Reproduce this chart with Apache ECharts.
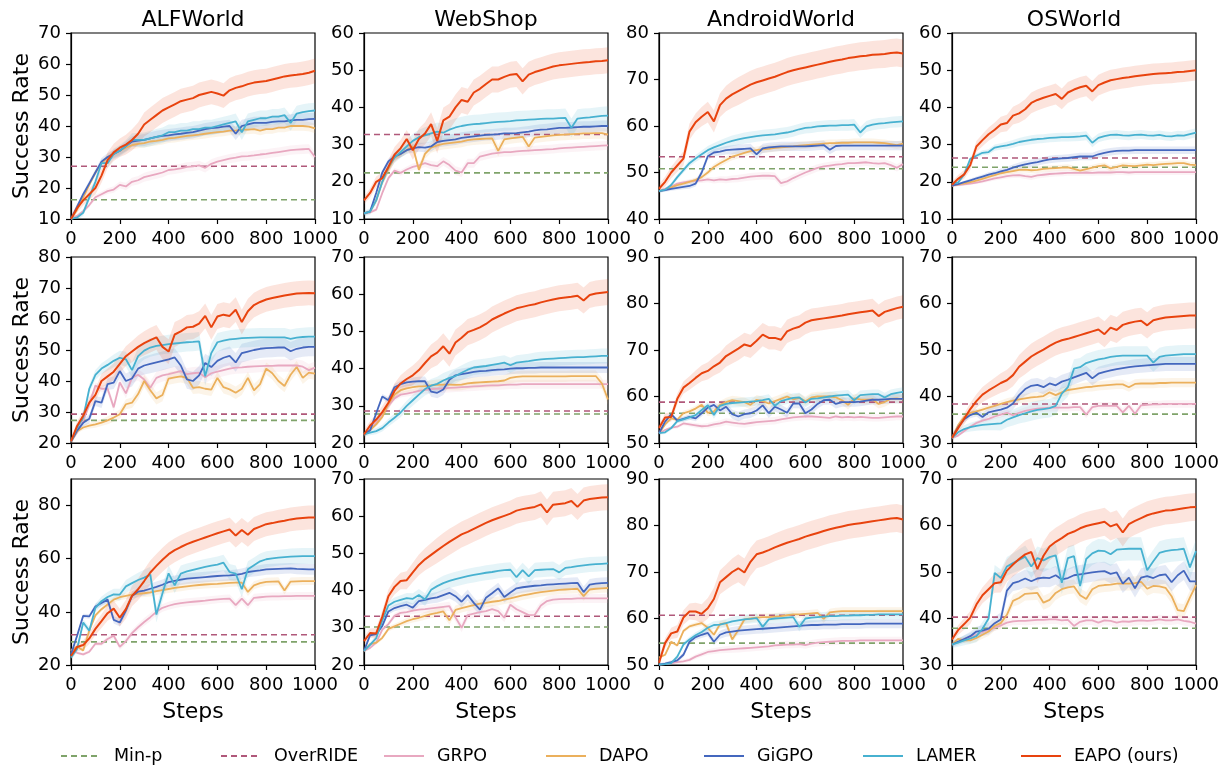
<!DOCTYPE html>
<html><head><meta charset="utf-8">
<script src="https://cdn.jsdelivr.net/npm/echarts@6/dist/echarts.min.js"></script>
<style>html,body{margin:0;padding:0;background:#fff}#c{width:1228px;height:770px}</style>
</head><body><div id="c"></div>
<script>
const STEPS = [0,25,50,75,100,125,150,175,200,225,250,275,300,325,350,375,400,425,450,475,500,525,550,575,600,625,650,675,700,725,750,775,800,825,850,875,900,925,950,975,1000];
const BENCHMARKS = ['ALFWorld','WebShop','AndroidWorld','OSWorld'];
const METHODS = ['GRPO','DAPO','GiGPO','LAMER','EAPO (ours)'];
const MINP = [[16.2,22.4,50.8,23.9],[27.3,27.8,56.4,36.2],[28.7,30.2,54.7,37.9]];
const OVERRIDE = [[27.0,32.7,53.4,26.4],[29.3,28.6,58.8,38.4],[31.4,33.1,60.7,40.3]];
const Y_MIN = [[10,10,40,10],[20,20,50,30],[20,20,50,30]];
const Y_MAX = [[70,60,80,60],[80,70,90,70],[90,70,90,70]];
const Y_STEP = [[10,10,10,10],[10,10,10,10],[20,10,10,10]];

// ---------- Row 1 ----------
const R1C1_GRPO = [10,11,12.5,14.5,17,18,19,19.5,21,20.5,22,22.5,23.5,24,24.5,25,25.8,26,26.3,26.8,27,27.3,26.5,27.8,28.5,29,29.5,29.8,30.2,30.3,30.5,30.8,31,31.3,31.6,31.9,32.2,32.4,32.5,32.6,30];
const R1C1_DAPO = [10,13,17,21,25,28,30,31,32,33,33.8,34.2,34.5,35,35.2,35.5,36,36.2,36.5,36.8,37,37.2,37.5,37.8,38,38.2,38.5,38.5,38.8,38.8,39,38.5,39,39,39.5,39.5,40,40,40,39.8,39.2];
const R1C1_GIGPO = [10,14,18,21.5,25,28.5,30,31,32,33.5,35,35.3,35.5,36,36.5,36.8,37,37.3,37.5,37.8,38,38.5,39,39.3,39.5,39.8,40,37.5,40,40.5,41,41,41,41.3,41.5,41.5,41.8,42,42,42.2,42.3];
const R1C1_LAMER = [10,10.5,12,17,22,28,28,31,32,33.5,35.5,35.5,35.5,36,36.5,37,38,38,38.5,38.5,39,39,39.5,39.5,40,40.5,41,41.5,38,41.5,42,42.5,42.5,43,43,43.5,41,44,44.5,44.8,45];
const R1C1_EAPO = [10,13.5,16,18,20,24,29,31.5,33,34,35.5,37.5,40.5,42,43.5,45,46,47,48,48.5,49,50,50.5,51,50.5,49.8,51.5,52.3,52.8,53.5,54,54.3,54.5,55,55.5,56,56.3,56.5,56.8,57.2,57.8];

const R1C2_GRPO = [11.5,11.8,12.5,17,21,23,22.4,23.3,24,24.4,25,24.5,24.2,25.5,24.5,23,22.5,25,25,26.8,27.2,27.6,27.8,28,28,28.2,28.3,28.4,28.5,28.6,28.7,28.8,29,29.1,29.2,29.3,29.4,29.5,29.6,29.7,29.8];
const R1C2_DAPO = [11.5,12,15,20,23.5,26.5,27.5,28.5,29.5,23.2,27.5,29.2,29.8,30.2,30.4,30.6,30.8,31.2,31.4,31.5,31.6,31.7,28.3,31.4,31.7,31.9,32.1,29.5,31.9,32.1,32.3,32.5,32.6,32.7,32.8,32.9,33,33,33.1,33.1,32.7];
const R1C2_GIGPO = [11.5,12,17,22.5,25.5,26.8,27.5,28.5,29,29.3,29.2,29.5,30.7,31,31.2,31.4,31.8,32,32.2,32.4,32.6,32.7,32.8,33,33,33.1,33.3,33.5,33.8,34,34.1,34.3,34.5,34.5,34.6,34.7,34.8,34.8,34.9,35,35];
const R1C2_LAMER = [11.5,12,15,20,24,26.5,28,29.5,31,32,32.5,33,33.5,33.2,34,34.6,35,35.3,35.5,35.6,35.8,36,36.1,36.2,36.3,36.5,36.6,36.7,36.8,36.9,37,37,37.1,37.2,34.5,37,37.2,37.3,37.5,37.7,37.8];
const R1C2_EAPO = [15,17,20,21,24,27.3,29,31.5,28.5,31.5,33,35.5,31,36.5,37.5,40,42,41.5,44,45,46.3,47.5,47.5,48.2,48.8,49,47,48.8,49.5,50,50.5,51,51.3,51.5,51.7,51.9,52.1,52.2,52.4,52.5,52.7];

const R1C3_GRPO = [46,46.5,47,47.6,47.9,48.1,48.2,48.3,48.5,48.3,48.5,48.4,48.6,48.7,48.9,49.1,49.2,49.3,49.3,49.2,47.7,48.1,48.8,49.4,50,50.5,51,51.3,51.5,51.7,51.8,52,52,52.1,52.2,52,51.9,52,51.6,51,51.8];
const R1C3_DAPO = [46,46.3,46.8,47.3,47.6,48,48.4,49,50,51.2,52,52.7,53.4,53.8,54.2,54.6,54.8,55,55.1,55.3,55.4,55.5,55.6,55.8,55.9,56,56.1,56.2,56.3,56.3,56.4,56.4,56.5,56.5,56.5,56.5,56.4,56.3,56.1,55.9,56.2];
const R1C3_GIGPO = [46,46.2,46.5,46.7,46.9,47.1,47.6,50,53.5,54.3,54.5,54.8,54.9,55,55.1,55.2,53.9,55.2,55.4,55.5,55.6,55.6,55.6,55.6,55.6,55.7,55.8,55.9,54.9,55.7,55.8,55.8,55.8,55.8,55.8,55.8,55.8,55.8,55.8,55.8,55.8];
const R1C3_LAMER = [46,46.3,47.3,49,50.5,52,53,53.9,54.8,55.4,55.9,56.4,56.8,57.1,57.4,57.6,57.8,58,58.1,58.2,58.4,58.6,58.9,59.3,59.6,59.7,59.9,60,60.1,60.1,60.2,60.2,60.3,58.6,59.9,60.3,60.5,60.6,60.8,60.9,61];
const R1C3_EAPO = [46.5,48,50,51.5,53,58.8,60.8,62,63,61,64.5,65.9,66.8,67.5,68.2,68.9,69.4,69.8,70.2,70.6,71.1,71.6,72,72.3,72.6,72.9,73.2,73.5,73.8,74.1,74.3,74.6,74.8,75,75.1,75.3,75.4,75.5,75.7,75.8,75.6];

const R1C4_GRPO = [19,19.1,19.3,19.5,19.8,20.1,20.5,20.9,21.2,21.5,21.7,21.8,21.5,21.3,21.7,21.9,22.1,22.2,22.3,22.4,22.4,22.4,22.5,22.4,22.5,22.5,22.5,22.6,22.6,22.5,22.6,22.6,22.6,22.6,22.6,22.6,22.6,22.6,22.6,22.6,22.6];
const R1C4_DAPO = [19,19.3,19.6,19.9,20.3,20.8,21.3,21.8,22.3,22.6,22.9,23.2,23.3,23.1,23.2,23.5,23.6,23.7,23.8,23.9,23.5,23,23.4,23.8,24.2,24.4,23.6,24,24.4,24.3,24.2,24.4,24.6,24.5,24.7,24.8,24.9,25,25,24.6,24.5];
const R1C4_GIGPO = [19,19.4,19.9,20.4,20.9,21.4,21.9,22.3,22.8,23.2,23.8,24.3,24.7,25,25.3,25.7,26,26.2,26.3,26.4,26.6,26.8,26.8,26.8,27.4,27.8,28.1,28.3,28.4,28.4,28.5,28.5,28.5,28.5,28.5,28.5,28.5,28.5,28.5,28.5,28.5];
const R1C4_LAMER = [19.5,19.8,22,26.2,27,27.8,28,29.2,29.5,29.8,30.2,30.7,31,31.3,31.5,31.6,31.8,31.9,32,32,32.1,32.2,32.4,30.5,31.8,32.3,32.6,32.7,32.5,32.4,32.6,32.7,32.5,32.4,32.6,32.3,32.2,32.5,32.4,32.8,33.2];
const R1C4_EAPO = [19.2,20.8,22,24.5,29.5,31.2,32.8,34,35.4,35.8,37.8,38.4,39.5,41.2,42,42.6,43.1,43.6,42.3,44,44.8,45.4,45.8,44.3,46,46.7,47.3,47.6,47.9,48.1,48.4,48.6,48.8,49,49.1,49.2,49.3,49.5,49.6,49.8,50];

// ---------- Row 2 ----------
const R2C1_GRPO = [20.5,23.5,27,32.5,38.5,37.5,37.5,31.5,39.5,36,41,42,40.5,37.8,41,41.8,42.2,42.7,43.2,42.2,42.5,42.7,41.2,42.5,43,43.5,44,44.3,44.4,44.6,44.7,44.8,44.9,44.9,45,45,45,45,44.6,43.5,44.3];
const R2C1_DAPO = [20.5,23.8,25,25.6,26,26.6,27.3,28.2,29.3,32.5,33,35.8,40,37,34.4,35.5,40.8,41.2,41.5,41,37.8,38,37.5,37.2,41,38,37.3,36.2,37.5,41,37,39,44,42.5,40,38.4,42,44.5,41,42.7,42.4];
const R2C1_GIGPO = [20.5,24,26.5,27.8,33.5,33,39,39.5,43.2,40,40.8,44,45,45.5,46,46.5,47,47.6,45,40.5,40,41.8,45.8,44.5,46.5,47.5,48.1,46,49,49.5,50,50.4,50.6,50.7,50.8,50.8,49.6,50.4,50.8,51,51];
const R2C1_LAMER = [20.5,25,28.1,37.5,42,44,45.2,46.5,47.5,47,43.5,48,49.8,50.8,51.3,51.6,51.9,52.1,52.3,52.5,52.6,52.8,41.5,49,52.5,53,53.4,53.6,53.8,53.9,54,54.1,54.1,54.1,54.1,54.1,53.6,54,54.2,54.3,54.3];
const R2C1_EAPO = [20.5,25.5,28.8,33,35.5,40,41.5,43,45.5,48,49.5,51,52.2,53.2,54.1,51,49.5,55,56,57.3,57.5,58.5,61,57.3,60.8,61.4,61,63,59,62.5,64.5,65.5,66.3,66.8,67.2,67.6,67.9,68.2,68.3,68.4,68.3];

const R2C2_GRPO = [22.3,23.5,25.5,27.8,30,32,33,33.3,33.6,34,34.3,34.5,34.6,34.7,34.8,34.9,35,35.1,35.2,35.3,35.4,35.5,35.5,35.6,35.7,35.7,35.8,35.8,35.8,35.8,35.8,35.8,35.8,35.8,35.8,35.8,35.8,35.8,35.8,35.8,35.8];
const R2C2_DAPO = [22.3,23.5,25,27,30.5,33,34.2,34.7,35,35.2,35.3,35.5,35.6,35.7,35.7,35.6,35.7,36,36.2,36.3,36.4,36.5,36.6,36.8,37.5,37.8,37.9,37.9,37.9,37.9,37.9,37.9,37.9,37.9,38,38,38,38,38,36,31.7];
const R2C2_GIGPO = [22.3,23.4,28,32.5,31.5,35,35.8,36.3,36.5,36.6,36.6,33.8,33.5,34.4,37,38.2,38.5,38.8,39.1,39.3,39.4,39.6,39.7,39.8,40,40.1,40.1,40.2,40.2,40.3,40.3,40.3,40.3,40.3,40.3,40.3,40.3,40.3,40.3,40.3,40.3];
const R2C2_LAMER = [22.3,22.8,23.2,24,25.5,26.8,28.2,30,31.5,33,34.5,35.4,35.9,36.8,37.5,38,38.9,39.7,40.3,40.5,40.7,41,41.3,41.6,40.9,41.6,41.8,42,42.3,42.5,42.6,42.7,42.8,42.9,43,43.1,43.1,43.2,43.3,43.4,43.4];
const R2C2_EAPO = [22.3,24.7,26.3,28.3,30.8,34,36,37.2,38.2,39.6,41.5,43.3,44.3,46,44,47,48.3,49.8,50.4,51.1,52,53.2,54,54.8,55.5,56.2,56.6,57,57.3,57.8,58.2,58.6,58.9,59.1,59.3,59.6,58.3,59.8,60.2,60.4,60.6];

const R2C3_GRPO = [52.1,52.8,53.3,53.5,54.2,54,53.8,53.6,53.7,54,54.2,54.6,54.4,54.2,54.1,54.3,54.5,54.6,54.7,54.8,55.1,55.3,55.5,55.6,55.7,55.7,55.6,55.5,55.4,55.7,55.5,55.6,55.5,55.6,55.5,55.4,55.4,55.5,55.6,55.7,55.7];
const R2C3_DAPO = [52.1,54,55.3,55,56.4,56.8,57.4,58.2,56.5,56.8,58.2,58.8,59.2,59,58.8,58.2,59.3,59,58.5,59,59.5,60,59.4,59.7,59,59.8,60,60,60,59.8,59.2,58.2,59.6,59.4,59.3,59.4,58.4,58.8,59.5,59.6,59.4];
const R2C3_GIGPO = [52.1,54.6,56.2,54.8,55.2,55.6,55.3,56.4,57.6,58.2,57,57.8,56.2,55.7,56.2,56.4,57,58.1,56.4,57.8,57.2,56.5,58.5,58.5,56.4,57.2,58.4,59.2,59.3,58.4,58.8,58.8,58.8,58.9,59.1,59.3,59.3,59.4,59.5,59.5,59.5];
const R2C3_LAMER = [52.1,52.3,53.2,54.7,55.1,55.5,56,57.1,58.1,56,58,58.4,58.6,58.7,58.8,58.9,59,59.2,59.5,58,59,59.4,59.7,59.8,58.7,59.5,59.6,59.8,60,60.2,60.3,60.4,59.2,60.3,60.4,60.5,60.5,59.8,60.5,60.8,61];
const R2C3_EAPO = [53.2,55.5,55.6,59.5,61.9,62.9,64,65,65.5,66.5,67.3,68.7,69.5,70.3,71.2,70.8,72,73.3,72.6,72.6,72.2,74,74.6,75,75.9,76.4,76.6,76.8,77,77.2,77.4,77.7,77.9,78.1,78.3,78.5,77.3,78.2,78.6,79,79.3];

const R2C4_GRPO = [31.1,31.6,32.6,33.5,34.3,34.8,35.2,35.7,36.1,36.5,36,36.5,36.9,37.2,37.4,37.5,37.6,37.6,37.6,37.6,37.7,37.7,36.1,37.7,38,38,38,38,36.6,38,36.3,38.1,38.2,38.3,38.3,38.4,38.4,38.4,38.4,38.4,38.4];
const R2C4_DAPO = [31.1,33.8,35.6,36.5,36.8,37.2,37.6,38,38.4,38.8,39.1,39.4,39.6,39.8,39.9,40.1,40.9,40.3,40.9,41.4,41.6,41.8,42,42.1,42.3,42.4,42.5,42.6,42.6,42,42.7,42.8,42.8,42.8,42.9,42.9,43,43,43,43,43];
const R2C4_GIGPO = [31.1,33.4,35.1,36,36.5,35.6,36.6,36.9,37.2,37.6,38.5,40.3,41.6,42.3,42.5,42,42.8,42.4,43.2,43.6,44.1,44.6,45.1,43.9,44.9,45.3,45.6,45.9,46.1,46.3,46.5,46.6,46.7,46.8,46.9,47,47,47,47,47,47];
const R2C4_LAMER = [31.1,32.3,33,33.4,33.7,33.9,34,34.1,34.2,35,35.5,36,36.4,36.8,37.1,37.3,37.5,38,40.6,42,46,46.3,47.2,47.6,48,48.2,48.5,48.7,48.8,48.8,48.8,48.8,48.8,47.3,48.5,48.8,48.9,49,49.1,49.1,49.1];
const R2C4_EAPO = [31.1,33.2,35.2,37.3,39,40.4,41.3,42.1,42.9,43.5,44.6,46.4,47.5,48.6,49.4,50.1,50.9,51.6,52.1,52.4,52.8,53.2,53.6,54,54.4,53.4,54.8,54.3,55.4,55.8,56.1,56.3,55.3,56.4,56.7,57,57.1,57.2,57.3,57.4,57.4];

// ---------- Row 3 ----------
const R3C1_GRPO = [25.9,24.6,24,25,28,28,29.8,31,26.8,29,32,34.2,36.2,38,40,41.5,42.3,42.9,43.3,43.6,43.8,44,44.2,44.5,44.7,44.9,45,42.5,45,42.5,45.3,45.5,45.7,45.8,45.8,45.9,45.9,46,46,46,46];
const R3C1_DAPO = [25.3,27,25.5,33,38.7,41,42.8,44.6,45.5,46,46.5,46.8,47,47.3,47.8,48.2,48.6,49,49.3,49.6,49.9,50.1,50.3,50.4,50.5,50.7,50.9,51,51,47.5,50,50.8,51.3,51.4,51.5,48,51.4,51.5,51.6,51.6,51.6];
const R3C1_GIGPO = [24,31,38.5,38.3,42,43.3,44.6,37,36,40.5,46,47.6,48,48.7,49.4,50.2,51.2,51.7,52.1,52.5,52.7,52.9,53.1,53.3,53.5,53.6,53.7,53.9,54.3,55,55.3,55.6,56,56.1,56.2,56.3,56.4,56.2,56.1,56,56];
const R3C1_LAMER = [22.8,26,36,32.9,41.5,44,45.6,46.6,46.5,49.6,50.8,52,52.9,54,39,47,54.5,50,54.4,55.2,55.8,56.4,56.9,57.4,57.8,58.5,55,54.4,48.5,56,57.5,59,59.8,60.1,60.4,60.6,60.8,60.9,61,61,61];
const R3C1_EAPO = [23.4,26.8,27.5,30,33.6,36.5,39.5,41.2,37.8,41,46,48.5,51.6,54.8,57.3,59.6,61.7,63.2,64.4,65.5,66.4,67.2,68,68.8,69.6,70.3,71,68.7,70.8,69,71.2,72.1,73,73.4,73.9,74.3,74.8,75.1,75.3,75.5,75.5];

const R3C2_GRPO = [23.8,24.6,26,29.5,31,33.2,34,34.2,34.6,34.9,35,35.2,35.4,35.6,35.8,32.8,30,33.4,33.8,34.2,34.5,35,34.5,32.7,36.2,35,34.2,33.4,33.5,36,37.2,37.6,37.7,37.8,37.8,37.9,37.9,37.9,37.9,37.9,37.9];
const R3C2_DAPO = [23.8,25.6,26,27.3,29.7,30.4,31.1,31.8,32.3,32.7,33.2,33.7,34,34.4,32,34.8,35.3,35.7,36.1,36.5,36.7,37,37.2,37.6,37.9,38.3,38.7,39,39.3,39.6,39.8,40,40.2,40.3,40.4,40.5,38.5,40.3,40.5,40.6,40.7];
const R3C2_GIGPO = [23.8,28,28.3,30.5,34.4,35.3,35.8,36.2,35.4,37.2,37.5,37.9,38.2,38.8,39.4,38.5,37,38.8,36.7,34.9,38.1,39.3,40.6,38.3,39.5,40.6,40.9,41.1,41.3,41.4,41.6,41.7,41.8,41.9,42,42.1,39.6,41.6,41.9,42,42.1];
const R3C2_LAMER = [23.8,25.4,27.2,32,36,37,37.5,38,37.8,38.8,37.6,40.2,41.2,42,42.6,43.1,43.5,43.9,44.2,44.5,44.8,45,45.3,45.5,45.6,43.6,45.5,43.8,45.5,45.6,45.7,45.8,44.9,46.1,46.3,46.6,46.8,47,47.1,47.2,47.3];
const R3C2_EAPO = [26.4,28.6,28.5,33,38.5,41,42.6,42.8,44.9,46.9,48.4,49.6,50.8,52,53.1,54.1,55.1,55.8,56.6,57.4,58.2,58.9,59.5,60.1,60.7,61.5,61.9,62.2,62.5,63.2,61,63.1,63.3,63.5,64.1,62.5,64.2,64.6,64.8,65,65.1];

const R3C3_GRPO = [50.1,50.2,50.4,50.6,50.8,51.1,51.8,52.3,52.8,53,53.2,53.3,53.4,53.5,53.6,53.7,53.8,53.9,54,54.2,54.3,54.4,54.4,54.5,54.3,54.6,54.8,54.9,55,55.1,55.2,55.2,55.2,55.3,55.3,55.3,55.3,55.3,55.3,55.3,55.3];
const R3C3_DAPO = [51.6,52.2,55,54.2,57.3,58.3,58.7,59,58,56.5,58.8,59,55.5,57.5,59.8,60,60.2,60.3,60.3,60.4,60.5,60.7,60.9,60.9,61,61.1,61.2,59.9,61.3,61.5,61.6,61.6,61.6,61.6,61.6,61.6,61.6,61.6,61.6,61.6,61.6];
const R3C3_GIGPO = [50.1,50.3,50.6,51,52.2,55,56,56.5,56.9,55,56.5,57,57.2,57.4,57.5,57.6,57.7,57.8,57.9,58,58.1,58.2,58.3,58.4,58.5,58.6,58.6,58.7,58.7,58.7,58.8,58.8,58.8,58.8,58.9,58.9,58.9,58.9,58.9,58.9,58.9];
const R3C3_LAMER = [50.1,50.2,50.4,51.8,54.4,55.5,56.4,57.1,58,58.6,58.7,59,59.4,59.6,59.8,59.9,60.1,58.2,59.8,60,60.1,60.2,60.3,58.2,60,60.2,60.3,60.4,60.5,60.5,60.6,60.6,60.7,60.7,60.8,60.8,60.9,60.9,60.9,60.9,60.9];
const R3C3_EAPO = [50.5,54.7,56.8,57.2,60.2,61.5,61.5,61,62.2,64.2,67.8,68.9,70,70.8,69.9,72.2,73.8,74.2,74.7,75.3,75.8,76.3,76.7,77.1,77.6,78,78.4,78.8,79.2,79.5,79.8,80.1,80.3,80.5,80.7,80.9,81.1,81.3,81.5,81.6,81.3];

const R3C4_GRPO = [34.4,35,35.6,36.1,36.5,37.1,37.6,38,38.5,39.1,39.4,39.5,39.5,39.6,39.7,39.7,39.8,39.8,39.6,39.7,38.4,39.3,39.6,39.6,39.1,39.6,39.5,39.1,39.4,39.3,39.5,39.6,39.5,39.6,39.8,39.6,39.6,39.8,39.5,39.3,38.9];
const R3C4_DAPO = [34.4,35.6,35.3,35.3,35.8,36.5,37.2,38.4,39,40.8,43.8,44.4,45.3,45.4,45.5,43.4,44,45.5,46.3,46.7,46.9,45,44.2,46.3,47,47.2,47.3,47.5,47.5,47.5,47.6,47.9,46.4,47,46.9,46.6,44.8,41.8,41.6,44.5,47.2];
const R3C4_GIGPO = [34.4,35,35.6,36.2,37.2,37.4,37.8,39,39.8,46,47.6,48,48.6,48,48.6,48.8,48.7,49.3,48.4,48.7,49.3,49.5,49.7,49.9,50.1,50.2,49.6,49.9,47.5,48.8,46.5,48.8,49.1,48.7,49.3,49.5,47.8,49.3,50.3,48,48];
const R3C4_LAMER = [34.4,34.8,35.3,35.7,36.2,37.8,40,49.8,48.7,51.2,51.9,52.6,53.3,51.2,53,52.5,53.2,53.6,47.7,53,53.4,47,52.8,54,54.6,54.5,53.8,54.8,54.9,55,55,55,50.4,52.3,54.1,54.5,54.7,54.8,55,51,54.5];
const R3C4_EAPO = [35.5,37.5,38.8,40.2,43,45,46.3,47.6,47.8,50.3,51.6,52.8,53.8,54.3,50.6,53.5,55.5,56.5,57.3,58.2,58.7,59.4,59.9,60.2,60.5,60.8,59.8,60.3,58.5,60.3,61,61.6,62.2,62.6,62.9,63.2,63.3,63.5,63.7,63.9,64];

// half-width of the shaded spread, per method [GRPO, DAPO, GiGPO, LAMER, EAPO]
const SPREAD = [
  [[1.5,1.5,2,2.5,4],[1.2,1.5,1.5,2.5,3.5],[0.8,0.8,1,1.2,3],[0.8,0.8,1,1.2,2.8]],
  [[2,2,3,3,4],[1.2,1.5,1.5,2,3.5],[0.8,1,1,1,2.5],[0.8,1,1.5,2,2.8]],
  [[1.5,1.5,2,3,4.5],[1.2,1.2,1.5,2,3.5],[0.8,0.8,1,1,3],[1,1.5,2,2.5,3]]
];

const CURVES = [
  [[R1C1_GRPO,R1C1_DAPO,R1C1_GIGPO,R1C1_LAMER,R1C1_EAPO],[R1C2_GRPO,R1C2_DAPO,R1C2_GIGPO,R1C2_LAMER,R1C2_EAPO],[R1C3_GRPO,R1C3_DAPO,R1C3_GIGPO,R1C3_LAMER,R1C3_EAPO],[R1C4_GRPO,R1C4_DAPO,R1C4_GIGPO,R1C4_LAMER,R1C4_EAPO]],
  [[R2C1_GRPO,R2C1_DAPO,R2C1_GIGPO,R2C1_LAMER,R2C1_EAPO],[R2C2_GRPO,R2C2_DAPO,R2C2_GIGPO,R2C2_LAMER,R2C2_EAPO],[R2C3_GRPO,R2C3_DAPO,R2C3_GIGPO,R2C3_LAMER,R2C3_EAPO],[R2C4_GRPO,R2C4_DAPO,R2C4_GIGPO,R2C4_LAMER,R2C4_EAPO]],
  [[R3C1_GRPO,R3C1_DAPO,R3C1_GIGPO,R3C1_LAMER,R3C1_EAPO],[R3C2_GRPO,R3C2_DAPO,R3C2_GIGPO,R3C2_LAMER,R3C2_EAPO],[R3C3_GRPO,R3C3_DAPO,R3C3_GIGPO,R3C3_LAMER,R3C3_EAPO],[R3C4_GRPO,R3C4_DAPO,R3C4_GIGPO,R3C4_LAMER,R3C4_EAPO]]
];

// ---------- styling / layout ----------
const FONT = 'DejaVu Sans';
const C_MINP = '#7FA36A', C_OVR = '#B0587A';
const M_COLORS = ['#E8A8C0','#EBB05C','#4467BE','#47B1D0','#E8430E'];
const COL_X = [71, 364, 659, 952];
const ROW_Y = [33, 257, 479];
const PW = 244, PH = 186;

const grids = [], xAxes = [], yAxes = [], series = [], titles = [];
let g = 0;
for (let r = 0; r < 3; r++) {
  for (let c = 0; c < 4; c++) {
    grids.push({left: COL_X[c], top: ROW_Y[r], width: PW, height: PH, show: true,
      borderColor: '#000', borderWidth: 1.2, backgroundColor: 'transparent', containLabel: false});
    xAxes.push({type: 'category', gridIndex: g, data: STEPS, boundaryGap: false,
      axisLine: {show: true, lineStyle: {color: '#000', width: 1.2}},
      axisTick: {show: true, interval: 7, length: 5, lineStyle: {color: '#000', width: 1.2}},
      axisLabel: {interval: 7, color: '#000', fontSize: 18, fontFamily: FONT, margin: 11},
      splitLine: {show: false},
      name: r === 2 ? 'Steps' : '', nameLocation: 'middle', nameGap: 36,
      nameTextStyle: {fontSize: 22, fontFamily: FONT, color: '#000'}});
    yAxes.push({type: 'value', gridIndex: g, min: Y_MIN[r][c], max: Y_MAX[r][c], interval: Y_STEP[r][c],
      axisLine: {show: true, lineStyle: {color: '#000', width: 1.2}},
      axisTick: {show: true, length: 5, lineStyle: {color: '#000', width: 1.2}},
      axisLabel: {color: '#000', fontSize: 18, fontFamily: FONT, margin: 10,
        showMaxLabel: (Y_MAX[r][c] - Y_MIN[r][c]) % Y_STEP[r][c] === 0},
      splitLine: {show: false},
      name: c === 0 ? 'Success Rate' : '', nameLocation: 'middle', nameGap: 38,
      nameTextStyle: {fontSize: 22, fontFamily: FONT, color: '#000'}});

    const base = {xAxisIndex: g, yAxisIndex: g, symbol: 'none', silent: true, animation: false};
    series.push(Object.assign({}, base, {name: 'Min-p', type: 'line', z: 3,
      data: STEPS.map(() => MINP[r][c]), lineStyle: {color: C_MINP, width: 1.6, type: [6, 4]}, itemStyle: {color: C_MINP}}));
    series.push(Object.assign({}, base, {name: 'OverRIDE', type: 'line', z: 3,
      data: STEPS.map(() => OVERRIDE[r][c]), lineStyle: {color: C_OVR, width: 1.6, type: [6, 4]}, itemStyle: {color: C_OVR}}));

    CURVES[r][c].forEach((vals, k) => {
      const w = SPREAD[r][c][k];
      const f = i => Math.min(1, 0.3 + STEPS[i] / 450);
      const stackId = 'band_' + g + '_' + k;
      series.push(Object.assign({}, base, {type: 'line', stack: stackId, z: 2,
        data: vals.map((v, i) => +(v - w * f(i)).toFixed(3)), lineStyle: {opacity: 0, width: 0}}));
      series.push(Object.assign({}, base, {type: 'line', stack: stackId, z: 2,
        data: vals.map((v, i) => +(2 * w * f(i)).toFixed(3)), lineStyle: {opacity: 0, width: 0},
        areaStyle: {color: M_COLORS[k], opacity: 0.14}}));
      series.push(Object.assign({}, base, {name: METHODS[k], type: 'line', z: 4 + k,
        data: vals, lineStyle: {color: M_COLORS[k], width: k === 4 ? 2 : 1.8}, itemStyle: {color: M_COLORS[k]}}));
    });
    g++;
  }
}
for (let c = 0; c < 4; c++) {
  titles.push({text: BENCHMARKS[c], left: COL_X[c] + PW / 2, top: 9, textAlign: 'center', padding: 0,
    textStyle: {fontSize: 22, fontWeight: 'normal', fontFamily: FONT, color: '#000'}});
}
const LEG_NAMES = ['Min-p','OverRIDE'].concat(METHODS);
const LEG_X = [60, 220, 383, 545, 703, 862, 1020];
const legends = LEG_NAMES.map((n, i) => ({data: [n], left: LEG_X[i], top: 747, padding: 0,
  itemWidth: 40, itemHeight: 14, selectedMode: false,
  itemStyle: {opacity: 0},
  textStyle: {fontSize: 17.5, fontFamily: FONT, color: '#000', padding: [0, 0, 0, 8]}}));

const chart = echarts.init(document.getElementById('c'), null, {renderer: 'canvas'});
chart.setOption({animation: false, backgroundColor: '#fff', title: titles, legend: legends,
  grid: grids, xAxis: xAxes, yAxis: yAxes, series: series});
</script></body></html>
